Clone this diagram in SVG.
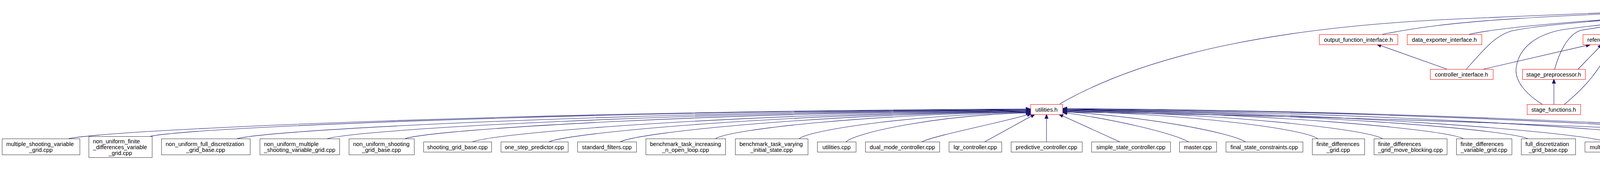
<svg xmlns="http://www.w3.org/2000/svg" width="6355" height="484" viewBox="0 0 6355 484">
<defs>
<style>
rect{fill:#fff;stroke:#333;stroke-width:1}
.r rect{stroke:#f00}
.root rect{fill:#bfbfbf;stroke:#000}
text{font-family:"Liberation Sans",Arial,sans-serif;font-size:14.6px;fill:#000}
.m{text-anchor:middle}
#edges path{fill:none;stroke:#191970;stroke-width:1.1;marker-end:url(#ah)}
</style>
<marker id="ah" markerUnits="userSpaceOnUse" markerWidth="13" markerHeight="10" refX="12" refY="5" orient="auto"><path d="M0,0.5 L12,5 L0,9.5 z" fill="#191970" stroke="#191970" stroke-width="1"/></marker>
</defs>
<rect x="0" y="0" width="6355" height="484" style="fill:#fff;stroke:none"/>
<g id="edges">
<path d="M176,355 C299,330 1407,284 2638,279"/>
<path d="M385,349 C498,325 1512,285 2638,280"/>
<path d="M607,355 C709,330 1622,286 2638,281"/>
<path d="M838,355 C928,330 1738,287 2638,282"/>
<path d="M1037,355 C1117,330 1838,288 2638,283"/>
<path d="M1210,363 C1281,338 1924,289 2638,284"/>
<path d="M1406,363 C1468,338 2022,290 2638,285"/>
<path d="M1588,363 C1640,338 2113,291 2638,286"/>
<path d="M1832,355 C1872,330 2235,292 2638,287"/>
<path d="M2046,355 C2076,332 2342,293 2638,288"/>
<path d="M2166,363 C2190,340 2400,294 2638,289"/>
<path d="M2360,363 C2400,345 2560,315 2641,291"/>
<path d="M2521,363 L2650,292"/>
<path d="M2679,363 L2679,292"/>
<path d="M2866,363 L2710,292"/>
<path d="M3042,363 C3000,340 2850,305 2720,288"/>
<path d="M3188,363 C3150,340 2950,300 2720,286"/>
<path d="M3373,355 C3340,330 3047,292 2720,285"/>
<path d="M3539,355 C3498,330 3130,290 2720,284"/>
<path d="M3746,355 C3695,330 3233,289 2720,283"/>
<path d="M3911,355 C3851,330 3316,288 2720,282"/>
<path d="M4112,363 C4042,338 3416,287 2720,281"/>
<path d="M4367,363 C4285,338 3544,286 2720,280"/>
<path d="M4530,355 C4440,330 3625,285 2720,279"/>
<path d="M4745,363 C4644,338 3732,284 2720,278"/>
<path d="M4454,453 C4360,420 4300,390 4285,365 C4270,340 4240,330 4000,322 C3600,305 3100,292 2720,287"/>
<path d="M2713,266 C2950,130 3300,70 3700,50 C4100,32 4450,20 4690,14"/>
<path d="M3539,88 C3700,55 3900,38 4690,16"/>
<path d="M3761,88 C3850,68 4100,45 4690,18"/>
<path d="M3754,177 C3800,125 3830,88 3875,78 C3990,55 4400,30 4690,20"/>
<path d="M3980,177 C3990,140 4010,92 4045,78 C4200,50 4500,30 4690,22"/>
<path d="M3948,267 C3905,240 3875,205 3882,170 C3890,120 3935,88 4000,76 C4200,48 4500,30 4690,24"/>
<path d="M4205,88 C4350,62 4550,36 4690,26"/>
<path d="M4287,170 C4310,120 4350,80 4420,63 C4520,42 4620,32 4690,28"/>
<path d="M4403,259 C4400,180 4410,110 4450,75 C4510,48 4620,34 4690,30"/>
<path d="M4567,267 C4500,210 4445,160 4450,105 C4455,60 4560,38 4690,31"/>
<path d="M4606,88 L4706,32"/>
<path d="M4659,177 C4695,145 4718,110 4727,32"/>
<path d="M4767,259 L4734,32"/>
<path d="M4847,80 L4762,32"/>
<path d="M5004,88 C4957,60 4851,34 4769,30"/>
<path d="M5160,81 C5082,53 4906,32 4769,28"/>
<path d="M5404,88 C5277,60 4991,30 4769,26"/>
<path d="M5596,88 C5431,60 5058,28 4769,24"/>
<path d="M5785,88 C5582,60 5125,26 4769,22"/>
<path d="M5977,88 C5735,60 5192,24 4769,20"/>
<path d="M6132,88 C5859,60 5246,22 4769,18"/>
<path d="M6213,267 C6245,200 6280,120 6247,80 C6200,58 6000,42 5600,32 C5200,22 4900,17 4769,16"/>
<path d="M6273,363 C6292,320 6330,225 6320,160 C6312,110 6295,88 6276,78 C6230,58 6000,40 5600,30 C5200,20 4900,15 4769,14"/>
<path d="M3704,177 L3524,113"/>
<path d="M3798,177 L4072,114"/>
<path d="M4040,177 L4102,113"/>
<path d="M3978,267 L3978,202"/>
<path d="M4005,267 C4050,230 4100,180 4123,113"/>
<path d="M4244,170 L4161,113"/>
<path d="M4336,266 C4250,240 4180,222 4160,192 C4142,165 4136,140 4135,113"/>
<path d="M4460,259 L4610,202"/>
<path d="M4635,177 L4594,113"/>
<path d="M4571,267 C4540,220 4525,180 4535,157 C4542,140 4555,125 4564,113"/>
<path d="M4595,267 L4636,202"/>
<path d="M4742,259 L4668,202"/>
<path d="M6118,274 C5700,250 5200,220 4743,196"/>
<path d="M6256,363 L6215,292"/>
<path d="M4406,363 L4406,299"/>
<path d="M4548,355 L4449,299"/>
<path d="M4587,355 L4587,292"/>
<path d="M4747,363 L4620,292"/>
<path d="M4566,452 L4730,389"/>
</g>
<g id="factory_h" class="root"><rect x="4690.5" y="6.5" width="79" height="26"/><text x="4729.5" y="24.5" class="m">factory.h</text></g>
<g id="output_function_interface_h" class="r"><rect x="3377.5" y="88.5" width="201" height="26"/><text x="3477.5" y="106.5" class="m">output_function_interface.h</text></g>
<g id="data_exporter_interface_h" class="r"><rect x="3602.5" y="88.5" width="191" height="26"/><text x="3697.5" y="106.5" class="m">data_exporter_interface.h</text></g>
<g id="reference_trajectory_h" class="r"><rect x="4052.5" y="88.5" width="164" height="26"/><text x="4134" y="106.5" class="m">reference_trajectory.h</text></g>
<g id="system_dynamics_interface_h" class="r"><rect x="4474.5" y="88.5" width="218" height="26"/><text x="4583" y="106.5" class="m">system_dynamics_interface.h</text></g>
<g id="finite_differences_interface_h" class="r"><rect x="4818.5" y="80.5" width="135" height="41"/><text x="4829" y="98.5">finite_differences</text><text x="4885.5" y="113.5" class="m">_interface.h</text></g>
<g id="observer_interface_h" class="r"><rect x="4977.5" y="88.5" width="156" height="26"/><text x="5055" y="106.5" class="m">observer_interface.h</text></g>
<g id="hyper_graph_optimization_problem_base_h" class="r"><rect x="5158.5" y="80.5" width="192" height="41"/><text x="5169" y="98.5">hyper_graph_optimization</text><text x="5254" y="113.5" class="m">_problem_base.h</text></g>
<g id="nlp_solver_interface_h" class="r"><rect x="5374.5" y="88.5" width="167" height="26"/><text x="5457.5" y="106.5" class="m">nlp_solver_interface.h</text></g>
<g id="qp_solver_interface_h" class="r"><rect x="5566.5" y="88.5" width="163" height="26"/><text x="5647.5" y="106.5" class="m">qp_solver_interface.h</text></g>
<g id="disturbance_interface_h" class="r"><rect x="5753.5" y="88.5" width="175" height="26"/><text x="5840.5" y="106.5" class="m">disturbance_interface.h</text></g>
<g id="plant_interface_h" class="r"><rect x="5952.5" y="88.5" width="132" height="26"/><text x="6018" y="106.5" class="m">plant_interface.h</text></g>
<g id="filter_interface_h" class="r"><rect x="6108.5" y="88.5" width="129" height="26"/><text x="6172.5" y="106.5" class="m">filter_interface.h</text></g>
<g id="controller_interface_h" class="r"><rect x="3661.5" y="177.5" width="161" height="26"/><text x="3741.5" y="195.5" class="m">controller_interface.h</text></g>
<g id="stage_preprocessor_h" class="r"><rect x="3897.5" y="177.5" width="161" height="26"/><text x="3977.5" y="195.5" class="m">stage_preprocessor.h</text></g>
<g id="optimal_control_problem_interface_h" class="r"><rect x="4184.5" y="170.5" width="185" height="41"/><text x="4195" y="188.5">optimal_control_problem</text><text x="4276.5" y="203.5" class="m">_interface.h</text></g>
<g id="dynamics_eval_interface_h" class="r"><rect x="4546.5" y="177.5" width="197" height="26"/><text x="4644.5" y="195.5" class="m">dynamics_eval_interface.h</text></g>
<g id="utilities_h" class="r"><rect x="2638.5" y="267.5" width="82" height="26"/><text x="2679" y="285.5" class="m">utilities.h</text></g>
<g id="stage_functions_h" class="r"><rect x="3909.5" y="267.5" width="137" height="26"/><text x="3977.5" y="285.5" class="m">stage_functions.h</text></g>
<g id="discretization_grid_interface_h" class="r"><rect x="4336.5" y="259.5" width="142" height="41"/><text x="4347" y="277.5">discretization_grid</text><text x="4407" y="292.5" class="m">_interface.h</text></g>
<g id="integrator_interface_h" class="r"><rect x="4505.5" y="267.5" width="163" height="26"/><text x="4586.5" y="285.5" class="m">integrator_interface.h</text></g>
<g id="finite_differences_collocation_h" class="r"><rect x="4703.5" y="259.5" width="135" height="41"/><text x="4714" y="277.5">finite_differences</text><text x="4770.5" y="292.5" class="m">_collocation.h</text></g>
<g id="collocation_interface_h"><rect x="6118.5" y="267.5" width="171" height="26"/><text x="6203.5" y="285.5" class="m">collocation_interface.h</text></g>
<g id="multiple_shooting_variable_grid_cpp"><rect x="5.5" y="355.5" width="199" height="41"/><text x="16" y="373.5">multiple_shooting_variable</text><text x="104.5" y="388.5" class="m">_grid.cpp</text></g>
<g id="non_uniform_finite_differences_variable_grid_cpp"><rect x="227.5" y="349.5" width="162" height="54"/><text x="238" y="366.5">non_uniform_finite</text><text x="238" y="381.5">_differences_variable</text><text x="308" y="396.5" class="m">_grid.cpp</text></g>
<g id="non_uniform_full_discretization_grid_base_cpp"><rect x="413.5" y="355.5" width="227" height="41"/><text x="424" y="373.5">non_uniform_full_discretization</text><text x="526.5" y="388.5" class="m">_grid_base.cpp</text></g>
<g id="non_uniform_multiple_shooting_variable_grid_cpp"><rect x="665.5" y="355.5" width="204" height="41"/><text x="676" y="373.5">non_uniform_multiple</text><text x="767" y="388.5" class="m">_shooting_variable_grid.cpp</text></g>
<g id="non_uniform_shooting_grid_base_cpp"><rect x="893.5" y="355.5" width="167" height="41"/><text x="904" y="373.5">non_uniform_shooting</text><text x="976.5" y="388.5" class="m">_grid_base.cpp</text></g>
<g id="shooting_grid_base_cpp"><rect x="1084.5" y="363.5" width="174" height="26"/><text x="1171" y="381.5" class="m">shooting_grid_base.cpp</text></g>
<g id="one_step_predictor_cpp"><rect x="1282.5" y="363.5" width="172" height="26"/><text x="1368" y="381.5" class="m">one_step_predictor.cpp</text></g>
<g id="standard_filters_cpp"><rect x="1478.5" y="363.5" width="151" height="26"/><text x="1553.5" y="381.5" class="m">standard_filters.cpp</text></g>
<g id="benchmark_task_increasing_n_open_loop_cpp"><rect x="1653.5" y="355.5" width="204" height="41"/><text x="1664" y="373.5">benchmark_task_increasing</text><text x="1755" y="388.5" class="m">_n_open_loop.cpp</text></g>
<g id="benchmark_task_varying_initial_state_cpp"><rect x="1882.5" y="355.5" width="186" height="41"/><text x="1893" y="373.5">benchmark_task_varying</text><text x="1975" y="388.5" class="m">_initial_state.cpp</text></g>
<g id="utilities_cpp"><rect x="2092.5" y="363.5" width="99" height="26"/><text x="2141.5" y="381.5" class="m">utilities.cpp</text></g>
<g id="dual_mode_controller_cpp"><rect x="2215.5" y="363.5" width="190" height="26"/><text x="2310" y="381.5" class="m">dual_mode_controller.cpp</text></g>
<g id="lqr_controller_cpp"><rect x="2429.5" y="363.5" width="135" height="26"/><text x="2496.5" y="381.5" class="m">lqr_controller.cpp</text></g>
<g id="predictive_controller_cpp"><rect x="2588.5" y="363.5" width="182" height="26"/><text x="2679" y="381.5" class="m">predictive_controller.cpp</text></g>
<g id="simple_state_controller_cpp"><rect x="2794.5" y="363.5" width="202" height="26"/><text x="2895" y="381.5" class="m">simple_state_controller.cpp</text></g>
<g id="master_cpp"><rect x="3019.5" y="363.5" width="95" height="26"/><text x="3066.5" y="381.5" class="m">master.cpp</text></g>
<g id="final_state_constraints_cpp"><rect x="3138.5" y="363.5" width="197" height="26"/><text x="3236.5" y="381.5" class="m">final_state_constraints.cpp</text></g>
<g id="finite_differences_grid_cpp"><rect x="3359.5" y="355.5" width="134" height="41"/><text x="3370" y="373.5">finite_differences</text><text x="3426" y="388.5" class="m">_grid.cpp</text></g>
<g id="finite_differences_grid_move_blocking_cpp"><rect x="3517.5" y="355.5" width="187" height="41"/><text x="3528" y="373.5">finite_differences</text><text x="3610.5" y="388.5" class="m">_grid_move_blocking.cpp</text></g>
<g id="finite_differences_variable_grid_cpp"><rect x="3728.5" y="355.5" width="142" height="41"/><text x="3739" y="373.5">finite_differences</text><text x="3799" y="388.5" class="m">_variable_grid.cpp</text></g>
<g id="full_discretization_grid_base_cpp"><rect x="3894.5" y="355.5" width="139" height="41"/><text x="3905" y="373.5">full_discretization</text><text x="3963.5" y="388.5" class="m">_grid_base.cpp</text></g>
<g id="multiple_shooting_grid_cpp"><rect x="4057.5" y="363.5" width="199" height="26"/><text x="4156.5" y="381.5" class="m">multiple_shooting_grid.cpp</text></g>
<g id="final_state_cost_cpp"><rect x="4330.5" y="363.5" width="151" height="26"/><text x="4405.5" y="381.5" class="m">final_state_cost.cpp</text></g>
<g id="structured_optimal_control_problem_cpp"><rect x="4505.5" y="355.5" width="163" height="41"/><text x="4516" y="373.5">structured_optimal</text><text x="4586.5" y="388.5" class="m">_control_problem.cpp</text></g>
<g id="explicit_integrators_h" class="r"><rect x="4692.5" y="363.5" width="161" height="26"/><text x="4772.5" y="381.5" class="m">explicit_integrators.h</text></g>
<g id="quadrature_interface_h" class="r"><rect x="6179.5" y="363.5" width="171" height="26"/><text x="6264.5" y="381.5" class="m">quadrature_interface.h</text></g>
<g id="simulated_plant_cpp"><rect x="4454.5" y="452.5" width="155" height="26"/><text x="4531.5" y="470.5" class="m">simulated_plant.cpp</text></g>
</svg>
